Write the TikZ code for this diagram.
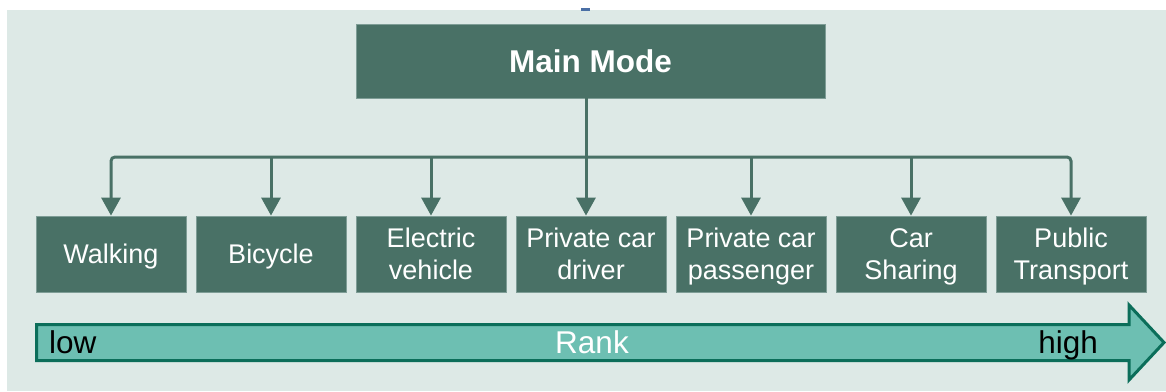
\documentclass[tikz,border=0pt]{standalone}
\usepackage{fontspec}
\setmainfont{Liberation Sans}
\usetikzlibrary{arrows.meta}

\definecolor{panel}{HTML}{DDE9E6}
\definecolor{boxfill}{HTML}{497166}
\definecolor{boxedge}{HTML}{7E9D96}
\definecolor{rankfill}{HTML}{6DBFB2}
\definecolor{rankedge}{HTML}{0B6E5A}
\definecolor{tick}{HTML}{4A6FA5}

% fixed line height so one- and two-line labels sit alike
\newcommand\mstrut{\rule[-6pt]{0pt}{30pt}}

\tikzset{
  modebox/.style={fill=boxfill, draw=boxedge, line width=0.8pt, text=white,
    minimum width=150pt, minimum height=76pt, inner sep=0pt, align=center,
    font=\fontsize{27}{32}\selectfont},
  headbox/.style={fill=boxfill, draw=boxedge, line width=0.8pt, text=white,
    minimum width=469pt, minimum height=74pt, inner sep=0pt,
    font=\fontsize{31.5}{36}\selectfont\bfseries},
  conn/.style={draw=boxfill, line width=3pt},
  arr/.style={conn, -{Triangle[width=19pt,length=18pt]}},
  ranktext/.style={font=\fontsize{31.5}{36}\selectfont, inner sep=0pt},
}

\begin{document}
\begin{tikzpicture}[x=1pt, y=-1pt]
  \useasboundingbox (0,0) rectangle (1166,391);
  \fill[white] (0,0) rectangle (1166,391);
  \fill[panel] (7,10) rectangle (1166,391);
  \fill[tick] (581,8) rectangle (590,11);

  % head of the tree
  \node[headbox] (main) at (590.5,61) {Main Mode};

  % the seven modes
  \node[modebox] (walk) at (111,254) {\mstrut Walking};
  \node[modebox] (bike) at (271,254) {\mstrut Bicycle};
  \node[modebox] (ev)   at (431,254) {\mstrut Electric\\\mstrut vehicle};
  \node[modebox] (drv)  at (591,254) {\mstrut Private car\\\mstrut driver};
  \node[modebox] (pas)  at (751,254) {\mstrut Private car\\\mstrut passenger};
  \node[modebox] (cs)   at (911,254) {\mstrut Car\\\mstrut Sharing};
  \node[modebox] (pt)   at (1071,254) {\mstrut Public\\\mstrut Transport};

  % branching bus
  \coordinate (bus) at (586,157);
  \draw[conn] (main.south -| bus) -- (bus);
  \draw[conn, rounded corners=4pt,
        {Triangle[width=19pt,length=18pt]}-{Triangle[width=19pt,length=18pt]}]
    (walk.north) -- (walk.north |- bus) -- (pt.north |- bus) -- (pt.north);
  \draw[arr] (bike.north |- bus) -- (bike.north);
  \draw[arr] (ev.north |- bus) -- (ev.north);
  \draw[arr] (bus) -- (bus |- drv.north);
  \draw[arr] (pas.north |- bus) -- (pas.north);
  \draw[arr] (cs.north |- bus) -- (cs.north);

  % rank arrow
  \draw[fill=rankfill, draw=rankedge, line width=3pt, miter limit=10]
    (36.5,324.5) -- (1129,324.5) -- (1129,305) -- (1164,342.5)
    -- (1129,380) -- (1129,360.5) -- (36.5,360.5) -- cycle;
  \node[ranktext, anchor=base west] (low) at (49,353) {low};
  \node[ranktext, anchor=base, text=white] (rank) at (592,353) {Rank};
  \node[ranktext, anchor=base east] (high) at (1098,353) {high};
\end{tikzpicture}
\end{document}
